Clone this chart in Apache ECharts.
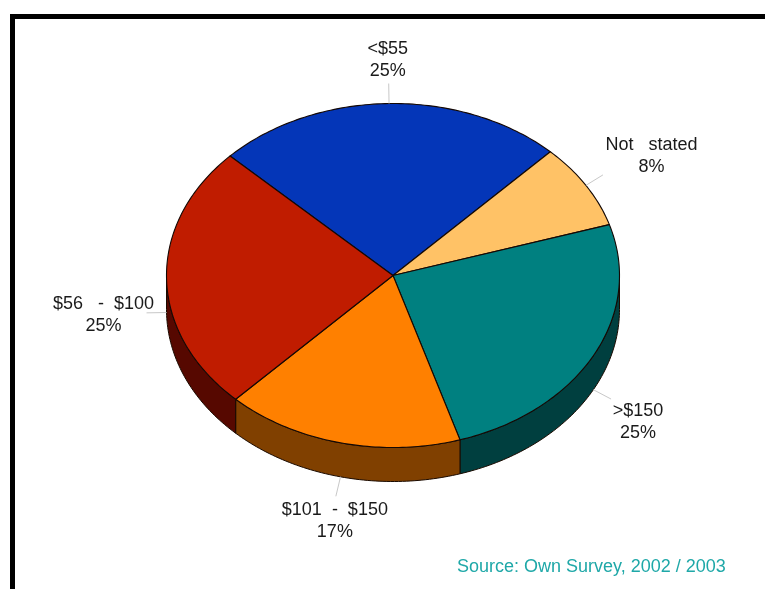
<!DOCTYPE html>
<html>
<head>
<meta charset="utf-8">
<style>html,body{margin:0;padding:0;background:#fff}#chart{width:765px;height:589px}</style>
<script src="https://cdn.jsdelivr.net/npm/echarts@6/dist/echarts.min.js"></script>
</head>
<body>
<div id="chart"></div>
<script>
// Room rate bands and their share of respondents, clockwise from the upper left.
const categories = ['<$55', 'Not   stated', '>$150', '$101  -  $150', '$56   -  $100'];
const shares = [25, 8, 25, 17, 25];
const sourceNote = 'Source: Own Survey, 2002 / 2003';

// Tilted disc geometry.
const CX = 393, CY = 275.5, RX = 226.5, RY = 172, DEPTH = 34, START_DEG = -46;
const TOP_COLORS = ['#0436b8', '#ffc266', '#008080', '#ff8000', '#c01c00'];
const WALL_COLORS = ['#001a60', '#806030', '#003f3f', '#804000', '#560800'];
const LEADER_LEN = 20;
const LABEL_OFFSETS = [[-1, -23], [48.5, -18.5], [27, 23], [-1, 25], [-43, 2]];
const FONT = 'Liberation Sans, Arial, sans-serif';

const total = shares.reduce((a, b) => a + b, 0);
const toDeg = v => START_DEG + v / total * 360;
let running = 0;
const rows = shares.map((v, i) => {
  const row = [i, toDeg(running), toDeg(running + v)];
  running += v;
  return row;
});

// Angles run clockwise from twelve o'clock; dy shifts down to the lower rim.
const rim = (deg, dy) => {
  const a = deg * Math.PI / 180;
  return [CX + RX * Math.sin(a), CY - RY * Math.cos(a) + (dy || 0)];
};
const arc = (from, to, dy) => {
  const pts = [];
  const n = Math.max(2, Math.ceil(Math.abs(to - from)));
  for (let k = 0; k <= n; k++) pts.push(rim(from + (to - from) * k / n, dy));
  return pts;
};

function renderWall(params, api) {
  const i = api.value(0);
  // Only the near half of the cylinder faces the viewer.
  const from = Math.max(api.value(1), 90), to = Math.min(api.value(2), 270);
  if (to <= from) return { type: 'group', children: [] };
  return {
    type: 'polygon',
    shape: { points: arc(from, to, 0).concat(arc(to, from, DEPTH)) },
    style: { fill: WALL_COLORS[i], stroke: '#1a0a00', lineWidth: 1 }
  };
}

function renderTop(params, api) {
  const i = api.value(0);
  return {
    type: 'polygon',
    shape: { points: [[CX, CY]].concat(arc(api.value(1), api.value(2), 0)) },
    style: { fill: TOP_COLORS[i], stroke: '#140804', lineWidth: 1.1, lineJoin: 'round' }
  };
}

function renderLabel(params, api) {
  const i = api.value(0);
  const mid = (api.value(1) + api.value(2)) / 2;
  const norm = ((mid % 360) + 360) % 360;
  const near = norm > 90 && norm < 270;
  const a = mid * Math.PI / 180;
  const p0 = rim(mid, near ? DEPTH : 0);
  const p1 = [p0[0] + LEADER_LEN * Math.sin(a), p0[1] - LEADER_LEN * Math.cos(a)];
  return {
    type: 'group',
    children: [
      {
        type: 'line',
        shape: { x1: p0[0], y1: p0[1], x2: p1[0], y2: p1[1] },
        style: { stroke: '#c8c8c8', lineWidth: 1 }
      },
      {
        type: 'text',
        style: {
          text: categories[i] + '\n' + shares[i] + '%',
          x: p1[0] + LABEL_OFFSETS[i][0],
          y: p1[1] + LABEL_OFFSETS[i][1],
          align: 'center',
          verticalAlign: 'middle',
          fontFamily: FONT,
          fontSize: 18,
          lineHeight: 22,
          fill: '#1a1a1a'
        }
      }
    ]
  };
}

const chart = echarts.init(document.getElementById('chart'), null, { renderer: 'canvas' });
chart.setOption({
  backgroundColor: '#ffffff',
  animation: false,
  tooltip: { show: false },
  graphic: [
    { type: 'rect', shape: { x: 10, y: 14, width: 755, height: 5 }, style: { fill: '#000' } },
    { type: 'rect', shape: { x: 10, y: 14, width: 5, height: 575 }, style: { fill: '#000' } },
    {
      type: 'text', x: 457, y: 567,
      style: { text: sourceNote, fontFamily: FONT, fontSize: 18, fill: '#1fa8a8', verticalAlign: 'middle' }
    }
  ],
  series: [
    { type: 'custom', coordinateSystem: 'none', silent: true, z: 1, data: rows, renderItem: renderWall },
    { type: 'custom', coordinateSystem: 'none', silent: true, z: 2, data: rows, renderItem: renderTop },
    { type: 'custom', coordinateSystem: 'none', silent: true, z: 3, data: rows, renderItem: renderLabel }
  ]
});
</script>
</body>
</html>
